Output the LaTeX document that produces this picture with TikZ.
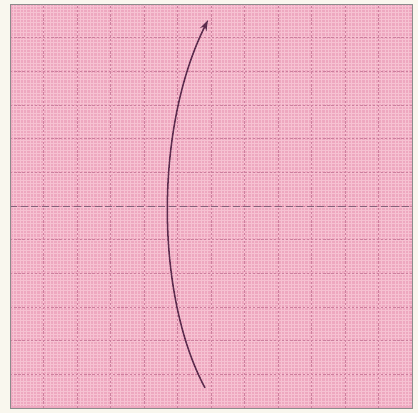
\documentclass[tikz,border=0pt]{standalone}
\usepackage{tikz}
\usetikzlibrary{arrows.meta}
\definecolor{paper}{RGB}{249,247,238}
\definecolor{sheet}{RGB}{238,168,192}
\definecolor{check}{RGB}{246,194,210}
\definecolor{crease}{RGB}{204,128,158}
\definecolor{ink}{RGB}{92,44,78}
\begin{document}
\begin{tikzpicture}
\tikzset{
  foldline/.style={crease,line width=.5pt,dash pattern=on 2pt off 1.5pt},
  midline/.style={ink!75,line width=.7pt,dash pattern=on 6pt off 3pt},
  move/.style={ink,line width=1.3pt,-{Stealth[length=9pt,width=6pt]}}
}
\useasboundingbox (0,0) rectangle (12.48,12.33);
\fill[paper] (0,0) rectangle (12.48,12.33);
%% the square sheet
\begin{scope}[shift={(0.3,0.15)}]
\fill[sheet] (0,0) rectangle (12,12.06);
\draw[check,line width=.7pt,step=0.1] (0.05,0.05) grid (12,12.06);
\foreach \i in {1,...,11} {
  \draw[foldline] (\i,0) -- (\i,12.06);
  \draw[foldline] (0,{\i*1.005}) -- (12,{\i*1.005});
}
\draw[midline] (0,6.03) -- (12,6.03);
\draw[black!45,line width=.7pt] (0,0) rectangle (12,12.06);
%% turn-over arrow
\coordinate (start) at (5.82,0.6);
\coordinate (tip) at (5.91,11.58);
\draw[move] (start) .. controls (4.32,3.4) and (4.32,8.4) .. (tip);
\end{scope}
\end{tikzpicture}
\end{document}
